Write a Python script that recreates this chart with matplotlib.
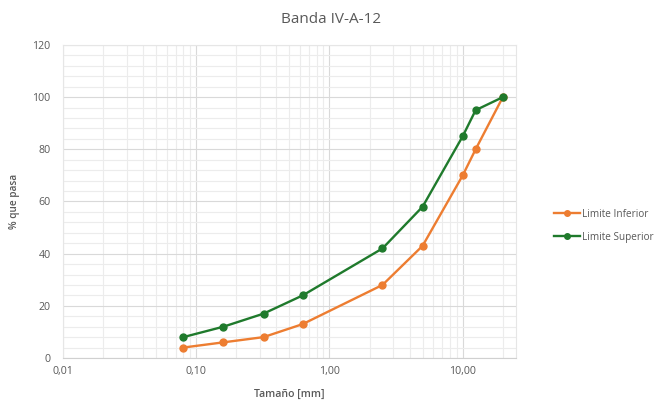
import matplotlib.pyplot as plt
from matplotlib.ticker import FixedLocator, FixedFormatter, NullFormatter

plt.rcParams["font.family"] = ["Open Sans", "DejaVu Sans"]

# Sieve sizes (mm) and band limits (% passing)
tamanos = [0.08, 0.16, 0.32, 0.63, 2.5, 5, 10, 12.5, 20]
limite_inferior = [4, 6, 8, 13, 28, 43, 70, 80, 100]
limite_superior = [8, 12, 17, 24, 42, 58, 85, 95, 100]

x_ticks = [0.01, 0.1, 1, 10]
x_tick_labels = ["0,01", "0,10", "1,00", "10,00"]
y_ticks = [0, 20, 40, 60, 80, 100, 120]

orange = "#ED7D31"
green = "#1F7A2C"
text_gray = "#595959"

fig = plt.figure(figsize=(6.59, 4.03), dpi=100)
ax = fig.add_axes([0.0956, 0.1117, 0.687, 0.7767])

ax.plot(tamanos, limite_inferior, color=orange, lw=1.7, marker="o", ms=5,
        label="Limite Inferior", zorder=3)
ax.plot(tamanos, limite_superior, color=green, lw=1.7, marker="o", ms=5,
        label="Limite Superior", zorder=3)

ax.set_xscale("log")
ax.set_xlim(0.01, 25)
ax.set_ylim(0, 120)

ax.xaxis.set_major_locator(FixedLocator(x_ticks))
ax.xaxis.set_major_formatter(FixedFormatter(x_tick_labels))
minor_x = [m * d for d in [0.01, 0.1, 1, 10] for m in range(2, 10) if m * d <= 25]
ax.xaxis.set_minor_locator(FixedLocator(minor_x))
ax.xaxis.set_minor_formatter(NullFormatter())
ax.set_yticks(y_ticks)
ax.set_yticks(range(0, 121, 4), minor=True)

ax.grid(which="major", color="#d9d9d9", lw=0.8)
ax.grid(which="minor", color="#ececec", lw=0.8)
ax.set_axisbelow(True)

ax.tick_params(which="both", length=0, labelsize=7.7, labelcolor=text_gray)
ax.tick_params(axis="x", pad=6)
ax.tick_params(axis="y", pad=9)

for side in ["top", "right", "left"]:
    ax.spines[side].set_color("#e6e6e6")
    ax.spines[side].set_linewidth(0.8)
ax.spines["bottom"].set_color("#d0d0d0")
ax.spines["bottom"].set_linewidth(0.8)

ax.set_xlabel("Tamaño [mm]", fontsize=7.6, color=text_gray, fontweight="semibold",
              labelpad=8)
ax.set_ylabel("% que pasa", fontsize=7.2, color=text_gray, fontweight="semibold",
              labelpad=9)

fig.text(0.502, 0.952, "Banda IV-A-12", ha="center", va="center",
         fontsize=11, color=text_gray)

leg = ax.legend(loc="center left", bbox_to_anchor=(0.827, 0.44),
                bbox_transform=fig.transFigure, frameon=False, fontsize=7.2,
                handlelength=2.6, handletextpad=0.2, labelspacing=1.2,
                markerscale=0.8)
for t in leg.get_texts():
    t.set_color(text_gray)

fig.savefig("out.png", dpi=100)
